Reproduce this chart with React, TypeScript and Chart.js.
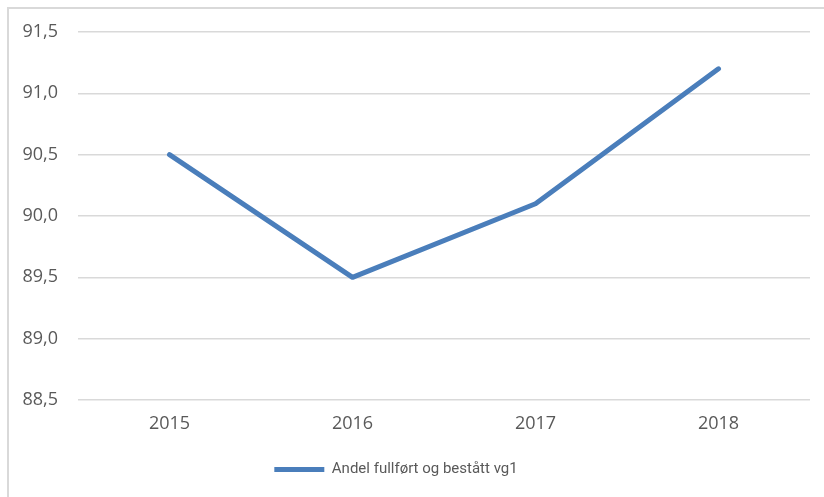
import React, { useEffect, useRef } from "react";
import { Chart, registerables } from "chart.js";

Chart.register(...registerables);

const categories = ["2015", "2016", "2017", "2018"];
const seriesName = "Andel fullført og bestått vg1";
const seriesValues = [90.5, 89.5, 90.1, 91.2];
const yMin = 88.5;
const yMax = 91.5;
const yStep = 0.5;

const LINE_COLOR = "#4a7ebb";
const TEXT_COLOR = "#595959";
const GRID_COLOR = "#d9d9d9";

export default function App() {
  const canvasRef = useRef<HTMLCanvasElement | null>(null);

  useEffect(() => {
    const canvas = canvasRef.current;
    if (!canvas) return;
    const chart = new Chart(canvas, {
      type: "line",
      data: {
        labels: categories,
        datasets: [
          {
            label: seriesName,
            data: seriesValues,
            borderColor: LINE_COLOR,
            backgroundColor: LINE_COLOR,
            borderWidth: 5,
            borderCapStyle: "round",
            borderJoinStyle: "round",
            pointRadius: 0,
            pointHoverRadius: 0,
            tension: 0,
            fill: false,
          },
        ],
      },
      options: {
        animation: false,
        responsive: false,
        maintainAspectRatio: false,
        devicePixelRatio: 1,
        layout: { padding: { left: 0, right: 14, top: 32, bottom: 10 } },
        plugins: {
          tooltip: { enabled: false },
          title: { display: false },
          legend: {
            display: true,
            position: "bottom",
            labels: {
              color: TEXT_COLOR,
              font: { family: "Roboto, 'Open Sans', sans-serif", size: 15 },
              boxWidth: 50,
              boxHeight: 5,
              padding: 10,
              useBorderRadius: true,
              borderRadius: 2.5,
              generateLabels: (c: any) =>
                c.data.datasets.map((ds: any, i: number) => ({
                  text: ds.label,
                  fillStyle: LINE_COLOR,
                  strokeStyle: LINE_COLOR,
                  lineWidth: 0,
                  fontColor: TEXT_COLOR,
                  datasetIndex: i,
                  hidden: false,
                })),
            },
          },
        },
        scales: {
          x: {
            type: "category",
            offset: true,
            grid: { display: false, drawTicks: false },
            border: { display: false },
            ticks: {
              color: TEXT_COLOR,
              font: { family: "'Open Sans', sans-serif", size: 18 },
              padding: 13,
              maxRotation: 0,
            },
            afterFit: (scale: any) => {
              scale.height = 52;
            },
          },
          y: {
            min: yMin,
            max: yMax,
            grid: { color: GRID_COLOR, lineWidth: 1.5, drawTicks: false },
            border: { display: false },
            ticks: {
              stepSize: yStep,
              color: TEXT_COLOR,
              font: { family: "'Open Sans', sans-serif", size: 18 },
              padding: 20,
              callback: (v: any) => Number(v).toFixed(1).replace(".", ","),
            },
            afterFit: (scale: any) => {
              scale.width = 96;
            },
          },
        },
      },
    });
    return () => chart.destroy();
  }, []);

  return (
    <div
      style={{
        position: "fixed",
        left: 0,
        top: 0,
        width: 824,
        height: 497,
        background: "#ffffff",
        overflow: "hidden",
      }}
    >
      <div
        style={{
          position: "absolute",
          left: 7,
          top: 7,
          width: 900,
          height: 600,
          borderLeft: "2px solid " + GRID_COLOR,
          borderTop: "2px solid " + GRID_COLOR,
          boxSizing: "border-box",
        }}
      />
      <canvas
        ref={canvasRef}
        width={842}
        height={497}
        style={{ position: "absolute", left: -18, top: 0, width: 842, height: 497 }}
      />
    </div>
  );
}
